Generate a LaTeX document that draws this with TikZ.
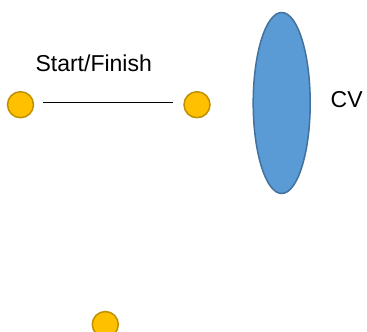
\documentclass[tikz,border=0pt]{standalone}
\usepackage{fontspec}
\setmainfont{Liberation Sans}
\usetikzlibrary{shapes.geometric}
\definecolor{dotfill}{HTML}{FFC000}
\definecolor{dotline}{HTML}{BF9000}
\definecolor{cvfill}{HTML}{5B9BD5}
\definecolor{cvline}{HTML}{41719C}
\begin{document}
\begin{tikzpicture}[x=1pt,y=-1pt,
  dot/.style={circle,draw=dotline,fill=dotfill,line width=1.5pt,minimum size=26pt,inner sep=0pt},
  lbl/.style={font=\fontsize{23}{23}\selectfont,inner sep=0pt,anchor=base}]
\useasboundingbox (0,0) rectangle (367,332);
\node[dot] (d1) at (20.5,104.7) {};
\node[dot] (d2) at (197,104.7) {};
\node[dot] (d3) at (105.3,324.5) {};
\coordinate (l1) at (43,102);
\coordinate (l2) at (173,102);
\draw[line width=1pt] (l1) -- (l2);
\node[ellipse,draw=cvline,fill=cvfill,line width=1.5pt,minimum width=57pt,minimum height=181pt,inner sep=0pt] (cv) at (281.7,103) {};
\node[lbl] (sf) at (93.7,71.7) {Start/Finish};
\node[lbl] (cvl) at (346.7,107.3) {CV};
\end{tikzpicture}
\end{document}
